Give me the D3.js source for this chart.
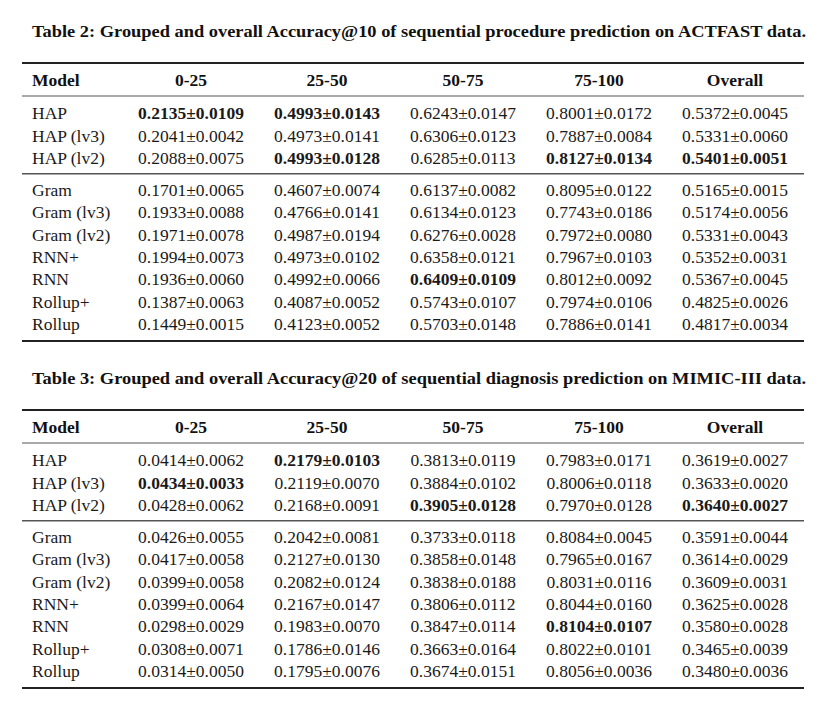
<!DOCTYPE html>
<html><head><meta charset="utf-8">
<script src="https://cdn.jsdelivr.net/npm/d3@7"></script>
<style>body{margin:0;background:#fff}svg{display:block}</style>
</head><body>
<script>
const columns = ["0-25", "25-50", "50-75", "75-100", "Overall"];
const models = ["HAP", "HAP (lv3)", "HAP (lv2)", "Gram", "Gram (lv3)", "Gram (lv2)", "RNN+", "RNN", "Rollup+", "Rollup"];
const title2 = "Table 2: Grouped and overall Accuracy@10 of sequential procedure prediction on ACTFAST data.";
const title3 = "Table 3: Grouped and overall Accuracy@20 of sequential diagnosis prediction on MIMIC-III data.";
const actfastMean = [
  [0.2135, 0.4993, 0.6243, 0.8001, 0.5372],
  [0.2041, 0.4973, 0.6306, 0.7887, 0.5331],
  [0.2088, 0.4993, 0.6285, 0.8127, 0.5401],
  [0.1701, 0.4607, 0.6137, 0.8095, 0.5165],
  [0.1933, 0.4766, 0.6134, 0.7743, 0.5174],
  [0.1971, 0.4987, 0.6276, 0.7972, 0.5331],
  [0.1994, 0.4973, 0.6358, 0.7967, 0.5352],
  [0.1936, 0.4992, 0.6409, 0.8012, 0.5367],
  [0.1387, 0.4087, 0.5743, 0.7974, 0.4825],
  [0.1449, 0.4123, 0.5703, 0.7886, 0.4817]
];
const actfastStd = [
  [0.0109, 0.0143, 0.0147, 0.0172, 0.0045],
  [0.0042, 0.0141, 0.0123, 0.0084, 0.0060],
  [0.0075, 0.0128, 0.0113, 0.0134, 0.0051],
  [0.0065, 0.0074, 0.0082, 0.0122, 0.0015],
  [0.0088, 0.0141, 0.0123, 0.0186, 0.0056],
  [0.0078, 0.0194, 0.0028, 0.0080, 0.0043],
  [0.0073, 0.0102, 0.0121, 0.0103, 0.0031],
  [0.0060, 0.0066, 0.0109, 0.0092, 0.0045],
  [0.0063, 0.0052, 0.0107, 0.0106, 0.0026],
  [0.0015, 0.0052, 0.0148, 0.0141, 0.0034]
];
const mimicMean = [
  [0.0414, 0.2179, 0.3813, 0.7983, 0.3619],
  [0.0434, 0.2119, 0.3884, 0.8006, 0.3633],
  [0.0428, 0.2168, 0.3905, 0.7970, 0.3640],
  [0.0426, 0.2042, 0.3733, 0.8084, 0.3591],
  [0.0417, 0.2127, 0.3858, 0.7965, 0.3614],
  [0.0399, 0.2082, 0.3838, 0.8031, 0.3609],
  [0.0399, 0.2167, 0.3806, 0.8044, 0.3625],
  [0.0298, 0.1983, 0.3847, 0.8104, 0.3580],
  [0.0308, 0.1786, 0.3663, 0.8022, 0.3465],
  [0.0314, 0.1795, 0.3674, 0.8056, 0.3480]
];
const mimicStd = [
  [0.0062, 0.0103, 0.0119, 0.0171, 0.0027],
  [0.0033, 0.0070, 0.0102, 0.0118, 0.0020],
  [0.0062, 0.0091, 0.0128, 0.0128, 0.0027],
  [0.0055, 0.0081, 0.0118, 0.0045, 0.0044],
  [0.0058, 0.0130, 0.0148, 0.0167, 0.0029],
  [0.0058, 0.0124, 0.0188, 0.0116, 0.0031],
  [0.0064, 0.0147, 0.0112, 0.0160, 0.0028],
  [0.0029, 0.0070, 0.0114, 0.0107, 0.0028],
  [0.0071, 0.0146, 0.0164, 0.0101, 0.0039],
  [0.0050, 0.0076, 0.0151, 0.0036, 0.0036]
];

const W = 830, H = 705;
const FONT = "'Liberation Serif', 'Times New Roman', serif";
const svg = d3.select("body").append("svg").attr("width", W).attr("height", H)
  .style("font-family", FONT);

const x = d3.scalePoint().domain(columns).range([191, 735]);
const left = 22, right = 804, modelX = 32;
const fmt = d3.format(".4f");

function drawTable(top, title, means, stds) {
  const g = svg.append("g").attr("transform", `translate(0,${top})`);
  g.append("text").attr("x", 32).attr("y", -32).attr("dy", "0.35em")
    .attr("font-weight", "bold").attr("font-size", 17.5).attr("fill", "#111")
    .attr("textLength", 774).attr("lengthAdjust", "spacingAndGlyphs").text(title);

  const rule = (y, w, c) => g.append("line").attr("x1", left).attr("x2", right)
    .attr("y1", y).attr("y2", y).attr("stroke", c).attr("stroke-width", w);
  const y = d3.scaleLinear().domain([0, 9]).range([50, 50 + 9 * 22.4]);
  const rowY = i => y(i) + (i >= 3 ? 9.5 : 0);
  rule(0, 1.8, "#222");
  rule(33, 1.2, "#555");
  rule((rowY(2) + rowY(3)) / 2, 1.3, "#555");
  rule(rowY(9) + 17, 2, "#222");

  g.append("text").attr("x", modelX).attr("y", 17).attr("dy", "0.35em")
    .attr("font-weight", "bold").attr("font-size", 17.5).attr("fill", "#111").text("Model");
  g.selectAll("text.hdr").data(columns).join("text").attr("class", "hdr")
    .attr("x", d => x(d)).attr("y", 17).attr("dy", "0.35em").attr("text-anchor", "middle")
    .attr("font-weight", "bold").attr("font-size", 17.5).attr("fill", "#111").text(d => d);

  const maxes = columns.map((c, j) => d3.max(means, r => r[j]));
  models.forEach((m, i) => {
    g.append("text").attr("x", modelX).attr("y", rowY(i)).attr("dy", "0.35em")
      .attr("font-size", 17.5).attr("fill", "#1a1a1a").text(m);
    g.selectAll(null).data(columns).join("text")
      .attr("x", d => x(d)).attr("y", rowY(i)).attr("dy", "0.35em").attr("text-anchor", "middle")
      .attr("font-size", 17.5).attr("fill", "#1a1a1a")
      .attr("font-weight", (d, j) => means[i][j] === maxes[j] ? "bold" : "normal")
      .text((d, j) => `${fmt(means[i][j])}±${fmt(stds[i][j])}`);
  });
}

drawTable(63, title2, actfastMean, actfastStd);
drawTable(410, title3, mimicMean, mimicStd);
</script>
</body></html>
